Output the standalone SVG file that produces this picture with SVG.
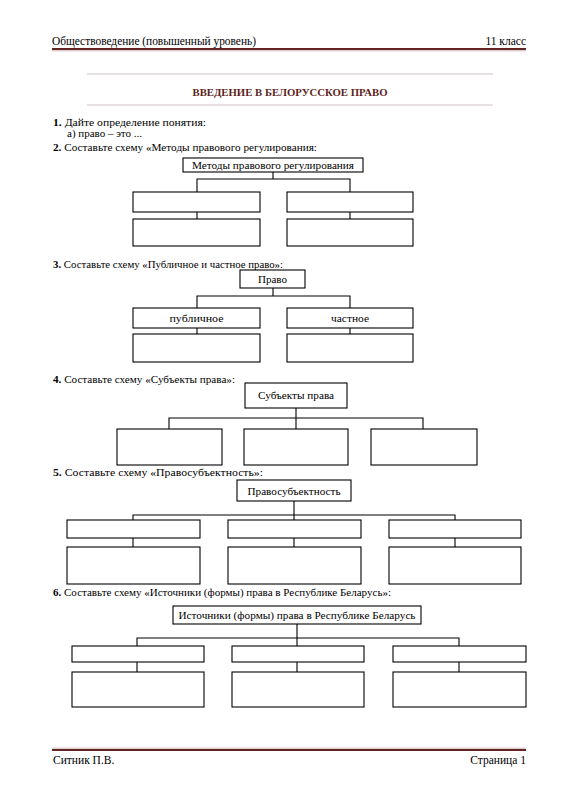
<svg xmlns="http://www.w3.org/2000/svg" width="565" height="800" viewBox="0 0 565 800">
<style>
text{font-family:"Liberation Serif","DejaVu Serif",serif;fill:#000}
.hd{font-size:11.5px}
.q{font-size:10.5px}
.b{font-weight:bold}
.lbl{font-size:10.5px;text-anchor:middle}
.title{font-size:11px;font-weight:bold;fill:#5e1f22;text-anchor:middle}
rect{fill:#fff;stroke:#000;stroke-width:1.1}
.c path{fill:none;stroke:#000;stroke-width:1.1}
</style>
<rect x="0" y="0" width="565" height="800" style="fill:#fff;stroke:none"/>
<g id="header">
<text class="hd" x="52" y="45" textLength="204" lengthAdjust="spacingAndGlyphs">Обществоведение (повышенный уровень)</text>
<text class="hd" x="526" y="45" text-anchor="end">11 класс</text>
<line x1="52" y1="49" x2="526" y2="49" stroke="#622423" stroke-width="2.2"/>
<line x1="52" y1="50.8" x2="526" y2="50.8" stroke="#c8a6a6" stroke-width="0.8"/>
</g>
<g id="title">
<line x1="87" y1="74" x2="493" y2="74" stroke="#b09a9a" stroke-width="0.6"/>
<text class="title" x="290" y="96" textLength="195" lengthAdjust="spacingAndGlyphs">ВВЕДЕНИЕ В БЕЛОРУССКОЕ ПРАВО</text>
<line x1="87" y1="105" x2="493" y2="105" stroke="#b09a9a" stroke-width="0.6"/>
</g>
<g id="questions">
<text class="q" x="53" y="126" textLength="153" lengthAdjust="spacingAndGlyphs"><tspan class="b">1.</tspan> Дайте определение понятия:</text>
<text class="q" x="67" y="137" textLength="75" lengthAdjust="spacingAndGlyphs">а) право – это ...</text>
<text class="q" x="53" y="151" textLength="264" lengthAdjust="spacingAndGlyphs"><tspan class="b">2.</tspan> Составьте схему «Методы правового регулирования:</text>
<text class="q" x="53" y="268" textLength="230" lengthAdjust="spacingAndGlyphs"><tspan class="b">3.</tspan> Составьте схему «Публичное и частное право»:</text>
<text class="q" x="53" y="383" textLength="182" lengthAdjust="spacingAndGlyphs"><tspan class="b">4.</tspan> Составьте схему «Субъекты права»:</text>
<text class="q" x="53" y="476" textLength="210" lengthAdjust="spacingAndGlyphs"><tspan class="b">5.</tspan> Составьте схему «Правосубъектность»:</text>
<text class="q" x="53" y="596" textLength="338" lengthAdjust="spacingAndGlyphs"><tspan class="b">6.</tspan> Составьте схему «Источники (формы) права в Республике Беларусь»:</text>
</g>
<g id="connectors" class="c">
<path d="M273 172V179M197 192V179H350V192M197 212V219M350 212V219"/>
<path d="M273 288V296M197 308V296H350V308M197 328V334M350 328V334"/>
<path d="M296 408V418M169 429V418H423V429M296 418V429"/>
<path d="M294 501V520M133 520V515H455V520M133 538V547M294 538V547M455 538V547"/>
<path d="M297 624V646M137 646V638H459V646M137 662V672M297 662V672M459 662V672"/>
</g>
<g id="s2-root"><rect x="183" y="158" width="180" height="14"/><text class="lbl" x="273" y="168.5" textLength="162" lengthAdjust="spacingAndGlyphs">Методы правового регулирования</text></g>
<g id="s2-a1"><rect x="133" y="192" width="127" height="20"/></g>
<g id="s2-b1"><rect x="287" y="192" width="126" height="20"/></g>
<g id="s2-a2"><rect x="133" y="219" width="127" height="27"/></g>
<g id="s2-b2"><rect x="287" y="219" width="126" height="27"/></g>
<g id="s3-root"><rect x="240" y="270" width="65" height="18"/><text class="lbl" x="272.5" y="282.5" textLength="29" lengthAdjust="spacingAndGlyphs">Право</text></g>
<g id="s3-public"><rect x="133" y="308" width="127" height="20"/><text class="lbl" x="196.5" y="321.5" textLength="54" lengthAdjust="spacingAndGlyphs">публичное</text></g>
<g id="s3-private"><rect x="287" y="308" width="126" height="20"/><text class="lbl" x="350" y="321.5" textLength="38" lengthAdjust="spacingAndGlyphs">частное</text></g>
<g id="s3-a2"><rect x="133" y="334" width="127" height="28"/></g>
<g id="s3-b2"><rect x="287" y="334" width="126" height="28"/></g>
<g id="s4-root"><rect x="245" y="383" width="102" height="25"/><text class="lbl" x="296" y="399" textLength="76" lengthAdjust="spacingAndGlyphs">Субъекты права</text></g>
<g id="s4-a"><rect x="117" y="429" width="105" height="36"/></g>
<g id="s4-b"><rect x="244" y="429" width="104" height="36"/></g>
<g id="s4-c"><rect x="371" y="429" width="106" height="36"/></g>
<g id="s5-root"><rect x="237" y="480" width="114" height="21"/><text class="lbl" x="294" y="494.5" textLength="93" lengthAdjust="spacingAndGlyphs">Правосубъектность</text></g>
<g id="s5-a1"><rect x="67" y="520" width="133" height="18"/></g>
<g id="s5-b1"><rect x="228" y="520" width="133" height="18"/></g>
<g id="s5-c1"><rect x="389" y="520" width="132" height="18"/></g>
<g id="s5-a2"><rect x="67" y="547" width="133" height="37"/></g>
<g id="s5-b2"><rect x="228" y="547" width="133" height="37"/></g>
<g id="s5-c2"><rect x="389" y="547" width="132" height="37"/></g>
<g id="s6-root"><rect x="173" y="606" width="248" height="18"/><text class="lbl" x="297" y="618.5" textLength="237" lengthAdjust="spacingAndGlyphs">Источники (формы) права в Республике Беларусь</text></g>
<g id="s6-a1"><rect x="72" y="646" width="132" height="16"/></g>
<g id="s6-b1"><rect x="232" y="646" width="132" height="16"/></g>
<g id="s6-c1"><rect x="393" y="646" width="133" height="16"/></g>
<g id="s6-a2"><rect x="72" y="672" width="132" height="35"/></g>
<g id="s6-b2"><rect x="232" y="672" width="132" height="35"/></g>
<g id="s6-c2"><rect x="393" y="672" width="133" height="35"/></g>
<g id="footer">
<line x1="52" y1="748.2" x2="526" y2="748.2" stroke="#c8a6a6" stroke-width="0.8"/>
<line x1="52" y1="750" x2="526" y2="750" stroke="#622423" stroke-width="2.2"/>
<text class="hd" x="53" y="764">Ситник П.В.</text>
<text class="hd" x="526" y="764" text-anchor="end">Страница 1</text>
</g>
</svg>
